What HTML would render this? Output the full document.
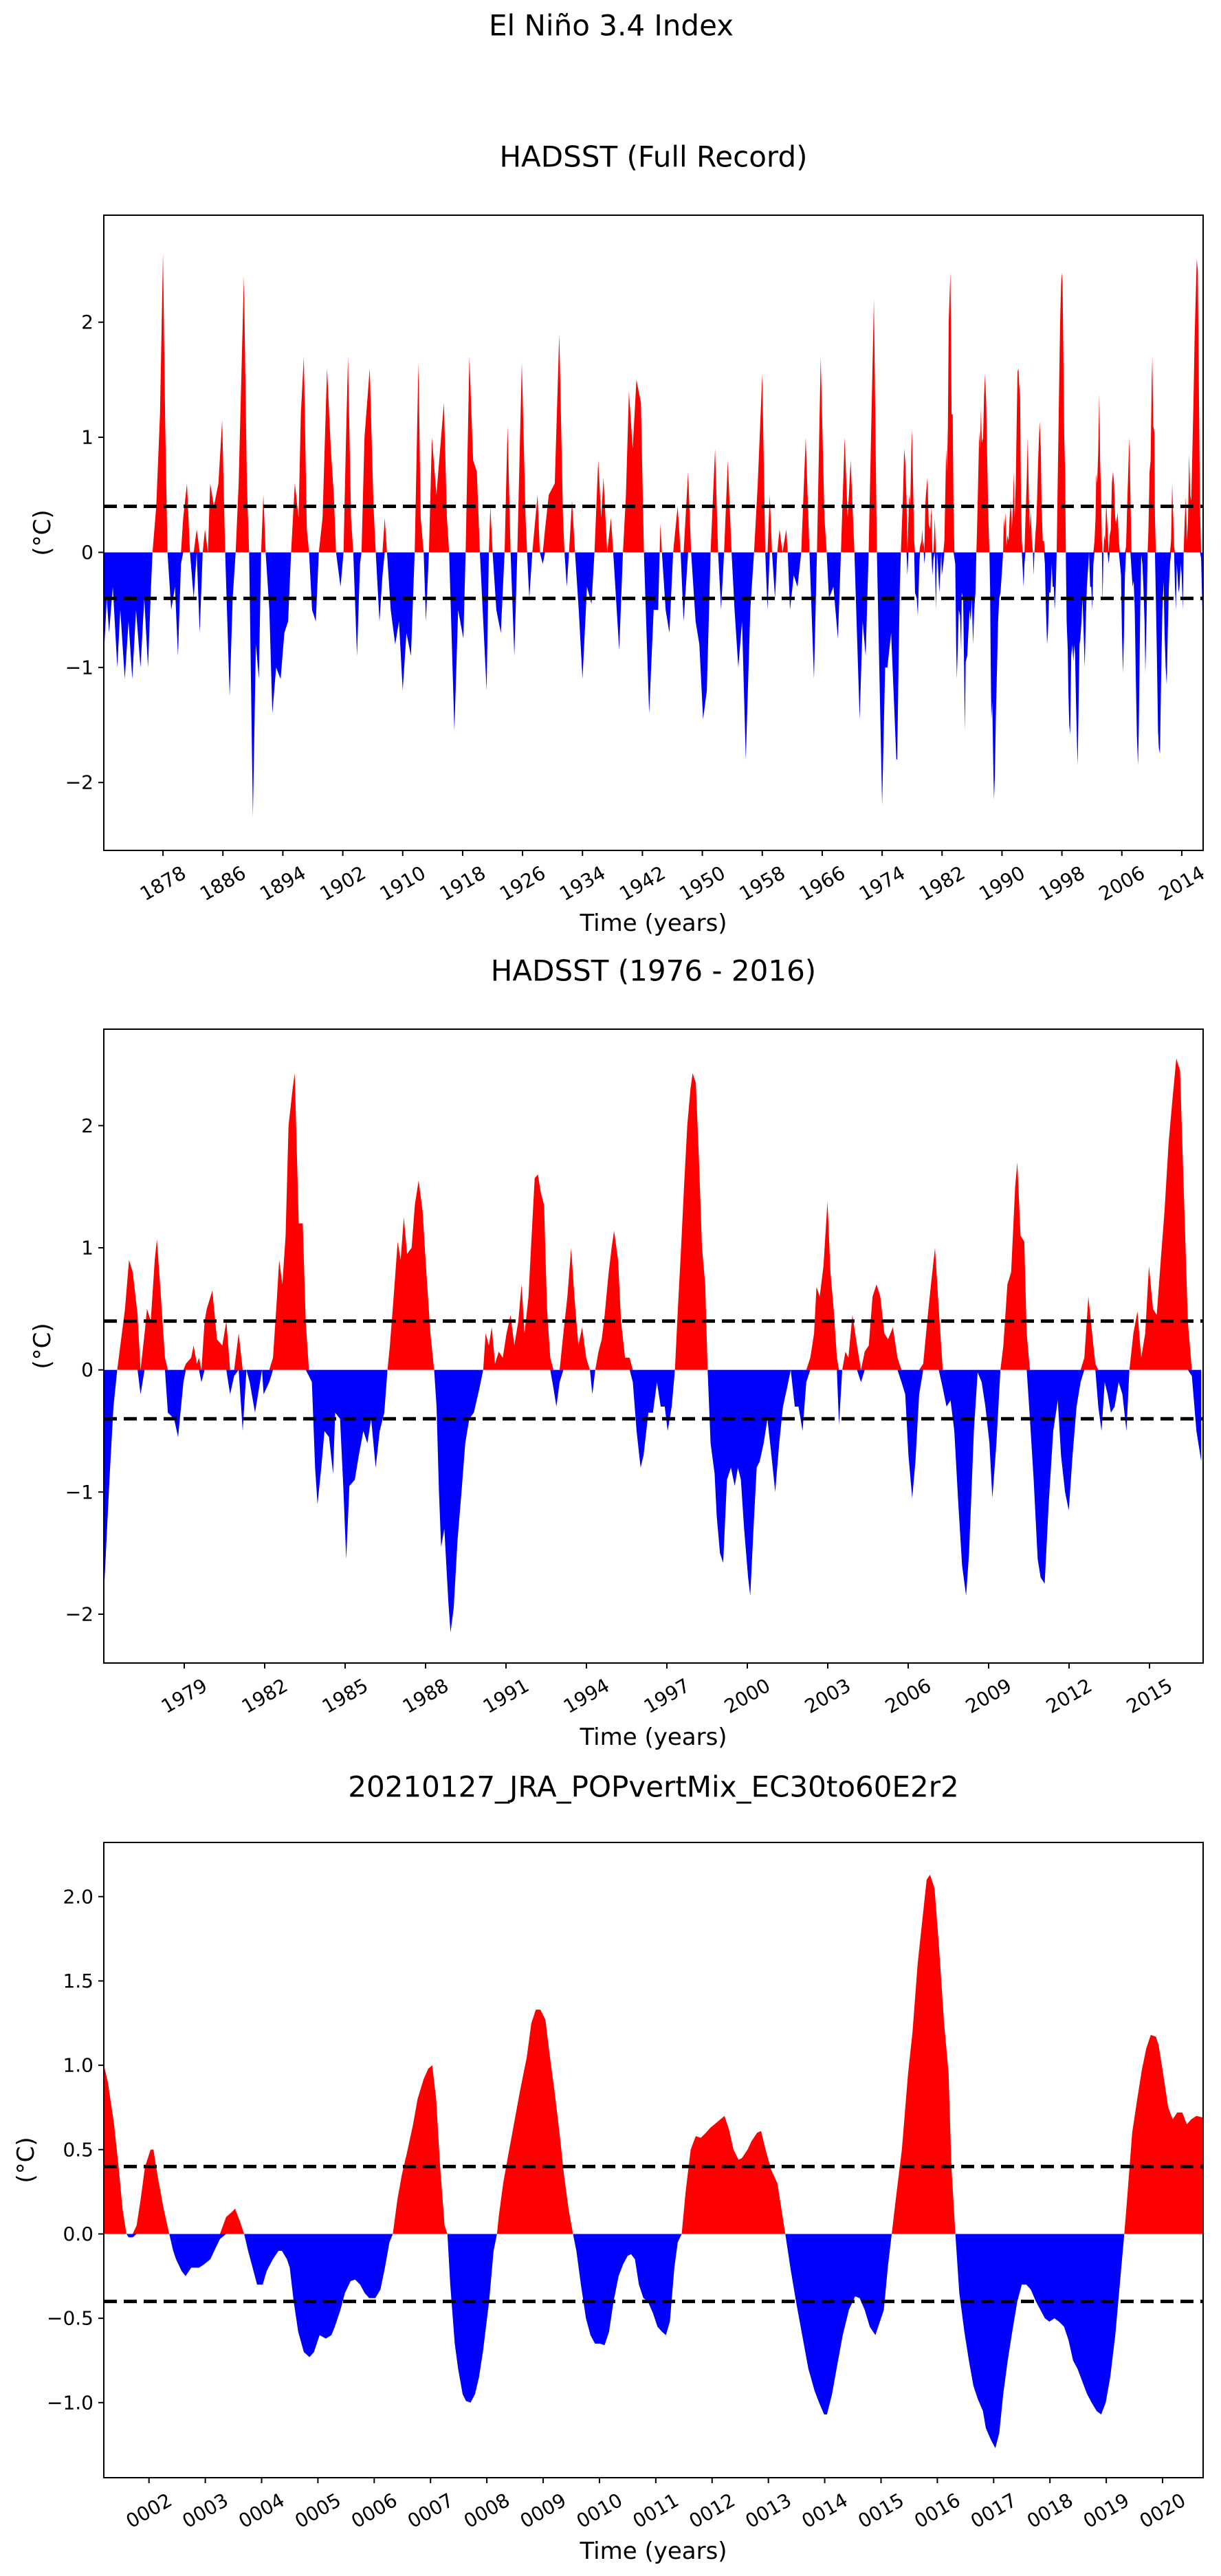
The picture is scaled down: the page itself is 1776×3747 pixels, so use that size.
<!DOCTYPE html>
<html><head><meta charset="utf-8"><title>El Niño 3.4 Index</title>
<style>
html,body{margin:0;padding:0;background:#fff;}
#fig{position:absolute;left:0;top:0;width:1776px;height:3747px;}
text{font-family:"DejaVu Sans","Liberation Sans",sans-serif;fill:#000;}
</style></head>
<body>
<svg id="fig" width="1776" height="3747" viewBox="0 0 1776 3747" xmlns="http://www.w3.org/2000/svg">
<rect x="0" y="0" width="1776" height="3747" fill="#fff"/>
<text x="889" y="37" font-size="42" text-anchor="middle" dominant-baseline="central">El Niño 3.4 Index</text>
<g id="p1"></g>
<g id="p2"></g>
<g id="p3"></g>
</svg>
<script>
// ---- HADSST early record (1870-1976) ----
const hadEarlyTimes = [
1870.1,1870.5,1870.8,1871.3,1871.9,1872.3,1872.9,1873.4,1873.9,1874.4,
1875.0,1875.5,1876.0,1876.4,1876.6,1877.1,1877.6,1878.0,1878.3,1878.6,
1879.1,1879.6,1880.0,1880.4,1880.7,1881.2,1881.6,1882.1,1882.5,1882.9,
1883.3,1883.6,1884.0,1884.3,1884.8,1885.4,1885.9,1886.3,1886.9,1887.3,
1887.7,1888.1,1888.8,1889.2,1889.5,1890.0,1890.4,1890.8,1891.1,1891.4,
1891.7,1892.2,1892.6,1893.1,1893.7,1894.2,1894.7,1895.1,1895.6,1896.1,
1896.4,1896.8,1897.2,1897.5,1897.9,1898.4,1898.8,1899.3,1899.9,1900.4,
1900.8,1901.1,1901.7,1902.1,1902.4,1902.7,1903.1,1903.4,1903.9,1904.3,
1904.5,1904.9,1905.6,1906.1,1906.4,1906.9,1907.3,1907.6,1907.9,1908.4,
1909.0,1909.5,1910.0,1910.5,1911.1,1911.6,1912.1,1912.4,1912.8,1913.1,
1913.5,1913.9,1914.5,1915.0,1915.5,1915.9,1916.2,1916.9,1917.4,1918.1,
1918.4,1918.9,1919.4,1919.9,1920.3,1921.2,1921.5,1921.7,1922.0,1922.5,
1923.1,1923.6,1924.0,1924.4,1924.9,1925.3,1925.9,1926.4,1926.6,1926.9,
1927.3,1928.0,1928.3,1928.7,1929.0,1929.5,1930.3,1930.9,1931.4,1931.6,
1931.9,1932.2,1932.6,1933.0,1933.5,1934.0,1934.6,1935.2,1935.6,1936.1,
1936.5,1936.8,1937.3,1937.8,1938.1,1938.9,1939.4,1939.8,1940.2,1940.7,
1941.2,1941.8,1942.2,1942.9,1943.5,1944.1,1944.3,1944.4,1944.6,1945.1,
1945.6,1946.1,1946.7,1947.1,1947.5,1948.1,1948.5,1949.1,1949.6,1950.1,
1950.6,1951.1,1951.7,1952.1,1952.5,1952.9,1953.4,1953.9,1954.3,1954.8,
1955.3,1955.8,1956.4,1956.9,1957.4,1958.0,1958.4,1958.7,1959.0,1959.3,
1959.7,1960.0,1960.3,1960.7,1961.2,1961.4,1961.7,1962.2,1962.7,1963.2,
1963.8,1964.3,1964.9,1965.3,1965.8,1966.3,1966.6,1966.9,1967.5,1968.1,
1968.5,1969.0,1969.4,1969.8,1970.3,1971.0,1971.4,1971.8,1972.2,1972.9,
1973.3,1974.0,1974.4,1974.7,1975.2,1975.9
];
const hadEarlyValues = [
-0.9,-0.4,-0.7,-0.3,-1.0,-0.5,-1.1,-0.6,-1.1,-0.5,
-1.0,-0.4,-1.0,-0.3,0.0,0.4,1.2,2.6,1.1,0.0,
-0.5,-0.3,-0.9,-0.1,0.3,0.6,0.0,-0.4,0.2,-0.7,
0.0,0.2,0.0,0.6,0.4,0.6,1.15,0.0,-1.25,-0.4,
0.0,0.6,2.4,0.6,0.0,-2.3,-0.8,-1.1,0.0,0.5,
0.0,-0.5,-1.4,-1.0,-1.1,-0.7,-0.6,0.0,0.6,0.3,
1.2,1.7,0.2,0.0,-0.5,-0.6,0.0,0.3,1.6,0.9,
0.5,0.0,-0.3,0.0,0.9,1.7,0.3,0.0,-0.9,-0.1,
0.0,1.0,1.6,0.4,0.0,-0.6,-0.2,0.3,0.0,-0.5,
-0.8,-0.6,-1.2,-0.7,-0.9,0.0,1.65,0.3,0.0,-0.6,
0.0,1.0,0.5,0.9,1.3,0.3,0.0,-1.55,-0.5,-0.75,
0.0,1.7,0.8,0.7,0.0,-1.2,0.0,0.4,0.0,-0.5,
-0.7,0.0,1.1,0.0,-0.9,0.0,1.65,0.3,0.0,-0.4,
0.0,0.5,0.0,-0.1,0.2,0.5,0.6,1.9,0.3,0.0,
-0.3,0.0,0.45,0.0,-0.5,-1.1,-0.3,-0.45,0.0,0.8,
0.3,0.65,0.0,0.3,0.0,-0.85,0.0,0.5,1.4,0.9,
1.5,1.3,0.0,-1.4,-0.5,-0.5,0.0,0.25,0.0,-0.5,
-0.7,0.0,0.4,0.0,-0.6,0.7,0.0,-0.6,-0.8,-1.45,
-1.2,0.0,0.9,0.0,-0.5,0.0,0.8,0.0,-0.5,-1.0,
-0.6,-1.8,-0.5,0.0,0.6,1.55,0.0,-0.5,0.5,0.0,
-0.4,0.0,0.2,0.0,0.2,0.0,-0.5,-0.2,-0.3,0.0,
1.0,0.0,-1.1,0.0,1.7,0.3,0.0,-0.4,-0.3,-0.75,
0.0,1.0,0.3,0.8,0.0,-1.45,-0.6,-0.9,0.0,2.2,
0.0,-2.2,-1.0,-1.0,-0.7,-1.8
];
// ---- HADSST 1976-2016 ----
const hadTimes = [
1976.01,1976.21,1976.36,1976.50,1976.79,1976.94,1977.08,1977.26,1977.37,1977.52,
1977.61,1977.75,1977.90,1977.98,1978.13,1978.28,1978.39,1978.62,1978.77,1978.97,
1979.06,1979.26,1979.35,1979.47,1979.55,1979.64,1979.76,1979.84,1980.05,1980.22,
1980.42,1980.57,1980.71,1980.86,1981.03,1981.18,1981.32,1981.44,1981.64,1981.90,
1981.96,1982.17,1982.31,1982.46,1982.54,1982.66,1982.78,1982.89,1983.04,1983.12,
1983.27,1983.42,1983.53,1983.65,1983.76,1983.88,1983.97,1984.11,1984.23,1984.40,
1984.55,1984.63,1984.81,1984.93,1985.04,1985.16,1985.36,1985.51,1985.68,1985.83,
1985.97,1986.14,1986.29,1986.46,1986.58,1986.67,1986.81,1986.96,1987.07,1987.19,
1987.31,1987.48,1987.60,1987.74,1987.89,1988.00,1988.18,1988.32,1988.41,1988.50,
1988.58,1988.70,1988.85,1988.93,1989.05,1989.19,1989.34,1989.48,1989.63,1989.80,
1990.01,1990.15,1990.24,1990.36,1990.47,1990.59,1990.73,1990.88,1991.02,1991.17,
1991.31,1991.46,1991.58,1991.69,1991.84,1991.92,1992.07,1992.19,1992.30,1992.42,
1992.53,1992.65,1992.77,1992.88,1993.00,1993.14,1993.29,1993.43,1993.55,1993.70,
1993.84,1993.99,1994.13,1994.22,1994.33,1994.45,1994.57,1994.68,1994.83,1994.94,
1995.03,1995.18,1995.29,1995.44,1995.61,1995.73,1995.87,1996.02,1996.13,1996.31,
1996.48,1996.63,1996.77,1996.92,1997.03,1997.18,1997.30,1997.41,1997.53,1997.64,
1997.76,1997.88,1997.96,1998.08,1998.20,1998.31,1998.43,1998.52,1998.63,1998.78,
1998.86,1998.98,1999.10,1999.24,1999.39,1999.53,1999.65,1999.76,1999.88,2000.03,
2000.11,2000.23,2000.35,2000.46,2000.61,2000.75,2000.90,2001.04,2001.19,2001.33,
2001.48,2001.62,2001.77,2001.91,2002.06,2002.20,2002.35,2002.49,2002.58,2002.70,
2002.84,2002.99,2003.10,2003.22,2003.34,2003.42,2003.54,2003.66,2003.77,2003.92,
2004.09,2004.24,2004.38,2004.53,2004.67,2004.82,2004.96,2005.11,2005.25,2005.43,
2005.60,2005.75,2005.89,2006.01,2006.15,2006.27,2006.41,2006.56,2006.71,2006.85,
2007.00,2007.14,2007.29,2007.43,2007.58,2007.72,2007.87,2008.01,2008.16,2008.27,
2008.45,2008.59,2008.74,2008.88,2009.03,2009.14,2009.29,2009.44,2009.55,2009.70,
2009.84,2009.99,2010.07,2010.19,2010.33,2010.42,2010.54,2010.68,2010.83,2010.94,
2011.09,2011.24,2011.41,2011.58,2011.70,2011.85,2011.99,2012.13,2012.28,2012.43,
2012.57,2012.72,2012.86,2012.98,2013.09,2013.21,2013.33,2013.44,2013.56,2013.70,
2013.85,2013.99,2014.14,2014.25,2014.40,2014.55,2014.69,2014.84,2014.98,2015.13,
2015.27,2015.42,2015.56,2015.71,2015.85,2016.00,2016.14,2016.26,2016.43,2016.58,
2016.75,2016.93
];
const hadValues = [
-1.8,-0.9,-0.3,0.0,0.5,0.9,0.8,0.45,-0.2,0.3,
0.5,0.4,0.9,1.07,0.6,0.1,-0.35,-0.4,-0.55,-0.1,
0.05,0.1,0.2,0.05,0.1,-0.1,0.4,0.5,0.65,0.25,
0.2,0.4,-0.2,-0.05,0.3,-0.5,0.0,-0.1,-0.35,0.0,
-0.2,-0.1,0.1,0.6,0.9,0.7,1.1,2.0,2.3,2.43,
1.2,1.2,0.4,-0.05,-0.1,-0.8,-1.1,-0.8,-0.5,-0.55,
-0.85,-0.35,-0.4,-0.95,-1.55,-0.95,-0.9,-0.7,-0.5,-0.6,
-0.4,-0.8,-0.5,-0.35,0.0,0.2,0.6,1.05,0.9,1.25,
0.95,1.0,1.35,1.55,1.3,0.9,0.3,0.0,-0.3,-1.0,
-1.45,-1.3,-1.9,-2.15,-1.95,-1.4,-1.0,-0.6,-0.4,-0.35,
-0.15,0.0,0.3,0.2,0.35,0.05,0.15,0.1,0.3,0.45,
0.2,0.4,0.7,0.3,0.6,0.95,1.57,1.6,1.45,1.35,
0.5,0.1,-0.15,-0.3,-0.1,0.3,0.6,1.0,0.6,0.2,
0.35,0.1,0.0,-0.2,0.0,0.15,0.25,0.45,0.8,1.0,
1.14,0.9,0.4,0.1,0.1,-0.1,-0.5,-0.8,-0.7,-0.35,
-0.35,-0.1,-0.3,-0.3,-0.5,-0.3,0.0,0.5,1.0,1.5,
2.0,2.3,2.43,2.35,1.7,1.0,0.7,0.0,-0.6,-0.85,
-1.2,-1.5,-1.58,-0.9,-0.8,-0.95,-0.8,-0.9,-1.3,-1.7,
-1.85,-1.3,-0.8,-0.75,-0.6,-0.4,-0.7,-1.0,-0.6,-0.3,
-0.15,0.0,-0.3,-0.3,-0.5,-0.1,0.1,0.3,0.68,0.6,
0.85,1.38,0.8,0.5,0.1,-0.45,0.0,0.15,0.1,0.45,
0.2,-0.1,0.15,0.2,0.6,0.7,0.6,0.3,0.25,0.35,
0.1,-0.1,-0.2,-0.7,-1.05,-0.75,-0.2,0.05,0.4,0.7,
1.0,0.5,-0.15,-0.3,-0.25,-0.5,-1.1,-1.6,-1.85,-1.5,
-0.5,-0.02,-0.1,-0.3,-0.6,-1.05,-0.6,0.0,0.2,0.7,
0.8,1.5,1.7,1.1,1.05,0.3,-0.4,-0.9,-1.55,-1.7,
-1.75,-1.1,-0.5,-0.25,-0.7,-1.0,-1.15,-0.7,-0.3,-0.1,
0.1,0.6,0.3,0.05,-0.3,-0.5,-0.1,-0.2,-0.35,-0.3,
-0.1,-0.2,-0.5,0.0,0.3,0.48,0.1,0.3,0.85,0.5,
0.45,0.9,1.3,1.85,2.2,2.55,2.45,1.6,0.4,-0.05,
-0.5,-0.75
];
// ---- JRA POPvertMix model run ----
const jraTimes = [
1.20,1.27,1.38,1.46,1.53,1.60,1.64,1.71,1.78,1.85,
1.93,2.03,2.08,2.15,2.26,2.36,2.43,2.48,2.58,2.65,
2.75,2.89,2.98,3.09,3.16,3.26,3.37,3.47,3.53,3.62,
3.69,3.76,3.84,3.92,4.02,4.09,4.20,4.30,4.36,4.45,
4.50,4.57,4.65,4.75,4.85,4.93,5.03,5.14,5.24,5.30,
5.40,5.48,5.58,5.66,5.75,5.83,5.91,6.02,6.11,6.19,
6.27,6.33,6.41,6.49,6.58,6.69,6.77,6.88,6.96,7.03,
7.10,7.17,7.25,7.30,7.35,7.43,7.49,7.57,7.63,7.71,
7.79,7.86,7.93,8.04,8.12,8.18,8.21,8.29,8.37,8.48,
8.59,8.71,8.79,8.87,8.95,9.04,9.12,9.20,9.29,9.37,
9.45,9.53,9.59,9.67,9.76,9.84,9.92,10.01,10.09,10.17,
10.25,10.34,10.42,10.50,10.56,10.63,10.70,10.78,10.86,10.95,
11.03,11.11,11.18,11.25,11.33,11.39,11.46,11.53,11.62,11.71,
11.80,11.89,11.97,12.08,12.22,12.30,12.38,12.47,12.53,12.63,
12.70,12.80,12.87,12.95,13.05,13.16,13.23,13.30,13.39,13.49,
13.60,13.71,13.82,13.90,13.99,14.04,14.13,14.21,14.32,14.43,
14.54,14.62,14.71,14.80,14.90,14.98,15.05,15.12,15.19,15.26,
15.37,15.48,15.56,15.65,15.73,15.81,15.87,15.95,16.03,16.12,
16.20,16.25,16.32,16.39,16.48,16.56,16.64,16.72,16.81,16.86,
16.95,17.03,17.10,17.17,17.25,17.33,17.42,17.50,17.58,17.66,
17.75,17.83,17.91,17.99,18.08,18.16,18.25,18.33,18.41,18.49,
18.58,18.66,18.74,18.83,18.91,18.99,19.07,19.16,19.24,19.32,
19.38,19.46,19.55,19.63,19.71,19.79,19.88,19.93,20.01,20.10,
20.18,20.26,20.35,20.43,20.51,20.60,20.72
];
const jraValues = [
1.0,0.9,0.65,0.4,0.15,0.0,-0.02,-0.02,0.05,0.2,
0.4,0.5,0.5,0.35,0.15,0.0,-0.1,-0.15,-0.22,-0.25,
-0.2,-0.2,-0.18,-0.15,-0.1,-0.03,0.1,0.13,0.15,0.07,
0.0,-0.1,-0.2,-0.3,-0.3,-0.22,-0.15,-0.1,-0.1,-0.15,
-0.2,-0.4,-0.58,-0.7,-0.73,-0.7,-0.6,-0.62,-0.6,-0.55,
-0.45,-0.35,-0.28,-0.27,-0.3,-0.35,-0.38,-0.38,-0.33,-0.2,
-0.05,0.0,0.2,0.35,0.48,0.65,0.8,0.92,0.98,1.0,
0.8,0.4,0.05,0.0,-0.3,-0.65,-0.8,-0.95,-0.99,-1.0,
-0.95,-0.85,-0.7,-0.4,-0.1,0.0,0.1,0.3,0.45,0.65,
0.85,1.05,1.25,1.33,1.33,1.27,1.05,0.85,0.6,0.35,
0.15,0.0,-0.1,-0.3,-0.5,-0.6,-0.65,-0.65,-0.66,-0.58,
-0.4,-0.25,-0.18,-0.13,-0.12,-0.15,-0.3,-0.38,-0.4,-0.47,
-0.55,-0.58,-0.6,-0.52,-0.2,-0.05,0.0,0.25,0.5,0.58,
0.57,0.6,0.63,0.66,0.7,0.62,0.5,0.44,0.45,0.5,
0.55,0.6,0.61,0.5,0.38,0.3,0.15,0.0,-0.2,-0.4,
-0.6,-0.8,-0.93,-1.0,-1.07,-1.07,-0.95,-0.8,-0.6,-0.45,
-0.37,-0.38,-0.45,-0.55,-0.6,-0.52,-0.45,-0.2,0.0,0.2,
0.5,0.95,1.2,1.6,1.85,2.1,2.13,2.05,1.7,1.25,
0.95,0.4,0.0,-0.35,-0.58,-0.75,-0.9,-0.98,-1.05,-1.15,
-1.22,-1.27,-1.18,-0.95,-0.75,-0.58,-0.4,-0.3,-0.3,-0.33,
-0.4,-0.45,-0.5,-0.52,-0.5,-0.52,-0.55,-0.63,-0.75,-0.8,
-0.88,-0.95,-1.0,-1.05,-1.07,-1.0,-0.85,-0.6,-0.3,0.0,
0.25,0.6,0.8,0.97,1.1,1.18,1.17,1.12,0.95,0.75,
0.68,0.72,0.72,0.65,0.68,0.7,0.69
];
// ---- tick values / labels ----
const fullXTicks = [1878,1886,1894,1902,1910,1918,1926,1934,1942,1950,1958,1966,1974,1982,1990,1998,2006,2014];
const recentXTicks = [1979,1982,1985,1988,1991,1994,1997,2000,2003,2006,2009,2012,2015];
const jraXTicks = [2,3,4,5,6,7,8,9,10,11,12,13,14,15,16,17,18,19,20];
const hadYTicks = [-2,-1,0,1,2];
const jraYTicks = [-1.0,-0.5,0.0,0.5,1.0,1.5,2.0];
const thresholds = [0.4,-0.4];

const NS = 'http://www.w3.org/2000/svg';
function mk(tag, attrs, parent){
  const e = document.createElementNS(NS, tag);
  for (const k in attrs) e.setAttribute(k, attrs[k]);
  parent.appendChild(e);
  return e;
}
function fmtNum(v, dec){
  const s = Math.abs(v).toFixed(dec);
  return (v < 0 ? '\u2212' : '') + s;
}
function drawPanel(g, cfg){
  const sx = t => cfg.left + (t - cfg.xmin) / (cfg.xmax - cfg.xmin) * (cfg.right - cfg.left);
  const sy = v => cfg.top + (cfg.ymax - v) / (cfg.ymax - cfg.ymin) * (cfg.bottom - cfg.top);
  const clipId = 'clip-' + g.id;
  const defs = mk('defs', {}, g);
  const cp = mk('clipPath', {id: clipId}, defs);
  mk('rect', {x: cfg.left, y: cfg.top, width: cfg.right - cfg.left, height: cfg.bottom - cfg.top}, cp);

  const title = mk('text', {x: (cfg.left + cfg.right) / 2, y: cfg.titleY, 'font-size': 42, 'text-anchor': 'middle', 'dominant-baseline': 'central'}, g);
  title.textContent = cfg.title;
  
  

  const plot = mk('g', {'clip-path': 'url(#' + clipId + ')'}, g);
  
  
  const y0 = sy(0);
  let pos = 'M' + sx(cfg.times[0]).toFixed(2) + ',' + y0.toFixed(2);
  let neg = pos;
  for (let i = 0; i < cfg.times.length; i++){
    const x = sx(cfg.times[i]).toFixed(2);
    pos += ' L' + x + ',' + sy(Math.max(cfg.values[i], 0)).toFixed(2);
    neg += ' L' + x + ',' + sy(Math.min(cfg.values[i], 0)).toFixed(2);
  }
  const endX = sx(cfg.times[cfg.times.length - 1]).toFixed(2);
  pos += ' L' + endX + ',' + y0.toFixed(2) + ' Z';
  neg += ' L' + endX + ',' + y0.toFixed(2) + ' Z';
  const pr = mk('path', {d: pos, fill: '#ff0000', stroke: 'none'}, plot);
  
  
  const nb = mk('path', {d: neg, fill: '#0000ff', stroke: 'none'}, plot);
  
  

  thresholds.forEach(th => {
    const l = mk('line', {x1: cfg.left, x2: cfg.right, y1: sy(th), y2: sy(th), stroke: '#000', 'stroke-width': 5, 'stroke-dasharray': '19 10'}, plot);
    
    
  });

  const frame = mk('rect', {x: cfg.left, y: cfg.top, width: cfg.right - cfg.left, height: cfg.bottom - cfg.top, fill: 'none', stroke: '#000', 'stroke-width': 2}, g);
  
  

  cfg.xticks.forEach(t => {
    const x = sx(t);
    const tk = mk('line', {x1: x, x2: x, y1: cfg.bottom, y2: cfg.bottom + 8, stroke: '#000', 'stroke-width': 2}, g);
    
    
    const cx = x, cy = cfg.bottom + 48;
    const lb = mk('text', {x: cx, y: cy, 'font-size': 28, 'text-anchor': 'middle', 'dominant-baseline': 'central', transform: 'rotate(-30 ' + cx + ' ' + cy + ')'}, g);
    lb.textContent = cfg.xfmt(t);
    
    
  });
  cfg.yticks.forEach(v => {
    const y = sy(v);
    const tk = mk('line', {x1: cfg.left - 8, x2: cfg.left, y1: y, y2: y, stroke: '#000', 'stroke-width': 2}, g);
    
    
    const lb = mk('text', {x: cfg.left - 15, y: y, 'font-size': 28, 'text-anchor': 'end', 'dominant-baseline': 'central'}, g);
    lb.textContent = cfg.yfmt(v);
    
    
  });
  const xl = mk('text', {x: (cfg.left + cfg.right) / 2, y: cfg.xlabelY, 'font-size': 34, 'text-anchor': 'middle', 'dominant-baseline': 'central'}, g);
  xl.textContent = 'Time (years)';
  
  
  const ym = (cfg.top + cfg.bottom) / 2;
  const yl = mk('text', {x: cfg.ylabelX, y: ym, 'font-size': 34, 'text-anchor': 'middle', 'dominant-baseline': 'central', transform: 'rotate(-90 ' + cfg.ylabelX + ' ' + ym + ')'}, g);
  yl.textContent = '(\u00b0C)';
  
  
}

drawPanel(document.getElementById('p1'), {
  left: 151, right: 1750, top: 313, bottom: 1237,
  xmin: 1870.1, xmax: 2016.85, ymin: -2.59, ymax: 2.93,
  times: hadEarlyTimes.concat(hadTimes), values: hadEarlyValues.concat(hadValues),
  xticks: fullXTicks, yticks: hadYTicks,
  xfmt: t => String(t), yfmt: v => fmtNum(v, 0),
  title: 'HADSST (Full Record)', titleY: 228, xlabelY: 1343, ylabelX: 62
});
drawPanel(document.getElementById('p2'), {
  left: 151, right: 1750, top: 1497, bottom: 2419,
  xmin: 1976.0, xmax: 2017.0, ymin: -2.40, ymax: 2.79,
  times: hadTimes, values: hadValues,
  xticks: recentXTicks, yticks: hadYTicks,
  xfmt: t => String(t), yfmt: v => fmtNum(v, 0),
  title: 'HADSST (1976 - 2016)', titleY: 1412, xlabelY: 2527, ylabelX: 62
});
drawPanel(document.getElementById('p3'), {
  left: 151, right: 1750, top: 2680, bottom: 3604,
  xmin: 1.198, xmax: 20.72, ymin: -1.445, ymax: 2.321,
  times: jraTimes, values: jraValues,
  xticks: jraXTicks, yticks: jraYTicks,
  xfmt: t => String(t).padStart(4, '0'), yfmt: v => fmtNum(v, 1),
  title: '20210127_JRA_POPvertMix_EC30to60E2r2', titleY: 2599, xlabelY: 3711, ylabelX: 38
});
</script>
</body></html>
